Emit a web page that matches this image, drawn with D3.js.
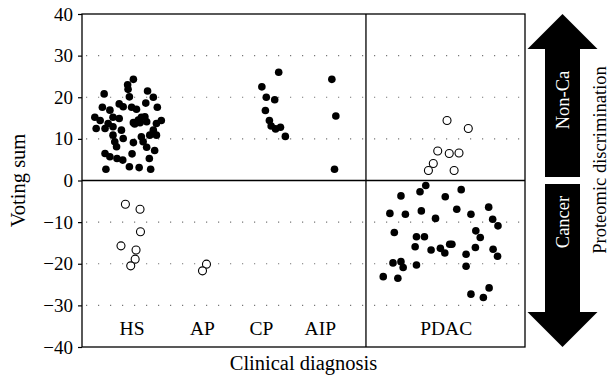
<!DOCTYPE html>
<html>
<head>
<meta charset="utf-8">
<script src="https://cdn.jsdelivr.net/npm/d3@7"></script>
<style>
  body { margin: 0; background: #fff; }
  text { font-family: "Liberation Serif", "Times New Roman", serif; }
</style>
</head>
<body>
<svg id="chart" width="612" height="379"></svg>
<script>
// categories and their position on the x axis (0-10 units)
const categories = ['HS', 'AP', 'CP', 'AIP', 'PDAC'];
const categoryPos = [1.13, 2.72, 4.05, 5.38, 8.22];
const dividerPos = 6.41;

const yTicks = [-40, -30, -20, -10, 0, 10, 20, 30, 40];
const gridValues = [-30, -20, -10, 10, 20, 30];

// [x, voting sum] ; filled = correctly discriminated, open = misclassified
const hsFilled = [
  [1.16, 24.3], [1.03, 23.0], [1.04, 21.9], [1.07, 20.1], [0.50, 20.8], [1.48, 21.5],
  [1.61, 20.0], [1.44, 18.6], [1.70, 17.6], [0.46, 17.6], [0.63, 16.9], [0.84, 18.4],
  [0.93, 17.7], [1.12, 17.6], [1.23, 17.1], [0.29, 15.2], [0.41, 14.4], [0.32, 12.5],
  [0.52, 12.5], [0.59, 13.7], [0.70, 15.2], [0.84, 14.9], [0.70, 12.9], [0.89, 12.1],
  [1.16, 13.9], [1.27, 14.5], [1.34, 15.2], [1.42, 15.3], [1.46, 14.1], [1.68, 13.7],
  [1.79, 14.4], [1.61, 12.1], [0.70, 10.9], [0.93, 10.1], [0.74, 9.3], [0.78, 8.1],
  [1.16, 9.1], [1.34, 10.5], [1.38, 9.3], [1.53, 10.9], [1.68, 10.9], [1.46, 8.0],
  [1.64, 7.2], [0.52, 6.5], [0.63, 5.7], [0.79, 5.3], [0.92, 4.9], [1.13, 6.4],
  [1.52, 5.3], [0.54, 2.7], [1.07, 3.3], [1.29, 3.1], [1.55, 2.7], [1.31, 13.9],
  [1.19, 13.6]
];
const hsOpen = [
  [0.98, -5.7], [1.31, -6.9], [1.32, -12.3], [0.88, -15.7], [1.22, -16.7], [1.20, -18.9],
  [1.10, -20.5]
];
const apOpen = [[2.81, -20.1], [2.72, -21.7]];
const cpFilled = [
  [4.44, 26.0], [4.06, 22.5], [4.16, 20.0], [4.35, 19.4], [4.14, 16.8], [4.23, 14.4],
  [4.27, 13.1], [4.37, 12.4], [4.48, 12.8], [4.59, 10.6]
];
const aipFilled = [[5.64, 24.3], [5.73, 15.5], [5.70, 2.7]];
const pdacOpen = [
  [8.24, 14.4], [8.72, 12.5], [8.03, 7.1], [8.29, 6.5], [8.51, 6.6], [7.93, 4.1],
  [7.82, 2.4], [8.40, 2.4]
];
const pdacFilled = [
  [7.76, -1.2], [7.63, -2.7], [8.56, -2.2], [7.20, -3.7], [8.20, -3.9], [6.95, -7.9],
  [7.30, -8.1], [7.66, -7.3], [7.98, -9.1], [8.46, -6.9], [8.78, -8.1], [9.18, -6.4],
  [9.27, -9.3], [9.39, -10.9], [7.05, -12.5], [7.55, -13.5], [7.73, -13.5], [8.89, -12.1],
  [8.99, -13.7], [7.52, -15.9], [7.88, -16.7], [8.09, -16.3], [8.19, -17.4], [8.30, -15.3],
  [8.35, -15.3], [8.88, -16.1], [8.67, -17.7], [9.28, -16.5], [9.38, -18.2], [7.02, -19.8],
  [7.20, -19.5], [7.25, -20.9], [7.55, -20.3], [8.67, -20.6], [6.80, -23.1], [7.13, -23.5],
  [9.19, -25.8], [8.78, -27.3], [9.06, -28.1]
];

const margin = { left: 82, right: 87, top: 14, bottom: 32 };
const width = 612, height = 379;

const svg = d3.select('#chart');

const x = d3.scaleLinear().domain([0, 10]).range([margin.left, width - margin.right]);
const y = d3.scaleLinear().domain([-40, 40]).range([height - margin.bottom, margin.top]);

// dotted grid lines
svg.append('g')
  .selectAll('line')
  .data(gridValues)
  .join('line')
  .attr('x1', x(0) + 4)
  .attr('x2', x(10))
  .attr('y1', d => y(d))
  .attr('y2', d => y(d))
  .attr('stroke', '#777')
  .attr('stroke-width', 1.2)
  .attr('stroke-dasharray', '1.2 10.8');

// y axis
const yAxis = d3.axisLeft(y).tickValues(yTicks).tickSize(4).tickPadding(5)
  .tickFormat(d => d < 0 ? '\u2212' + Math.abs(d) : d);
svg.append('g')
  .attr('transform', `translate(${margin.left},0)`)
  .call(yAxis)
  .call(g => g.select('.domain').remove())
  .call(g => g.selectAll('line').attr('stroke', '#000').attr('stroke-width', 1.2))
  .call(g => g.selectAll('text').attr('font-size', 19).attr('fill', '#000')
    .attr('font-family', '"Liberation Serif", serif'));

// frame, zero line, divider
svg.append('rect')
  .attr('x', x(0)).attr('y', y(40))
  .attr('width', x(10) - x(0)).attr('height', y(-40) - y(40))
  .attr('fill', 'none').attr('stroke', '#000').attr('stroke-width', 1.3);
svg.append('line')
  .attr('x1', x(0)).attr('x2', x(10)).attr('y1', y(0)).attr('y2', y(0))
  .attr('stroke', '#000').attr('stroke-width', 1.3);
svg.append('line')
  .attr('x1', x(dividerPos)).attr('x2', x(dividerPos)).attr('y1', y(40)).attr('y2', y(-40))
  .attr('stroke', '#000').attr('stroke-width', 1.3);

// category labels
svg.append('g')
  .selectAll('text')
  .data(categories)
  .join('text')
  .attr('x', (d, i) => x(categoryPos[i]))
  .attr('y', y(-37.2))
  .attr('text-anchor', 'middle')
  .attr('font-size', 19.5)
  .text(d => d);

// points
const filled = [].concat(hsFilled, cpFilled, aipFilled, pdacFilled);
const open = [].concat(hsOpen, apOpen, pdacOpen);

svg.append('g')
  .selectAll('circle')
  .data(filled)
  .join('circle')
  .attr('cx', d => x(d[0]))
  .attr('cy', d => y(d[1]))
  .attr('r', 3.8)
  .attr('fill', '#000');

svg.append('g')
  .selectAll('circle')
  .data(open)
  .join('circle')
  .attr('cx', d => x(d[0]))
  .attr('cy', d => y(d[1]))
  .attr('r', 4)
  .attr('fill', '#fff')
  .attr('stroke', '#000')
  .attr('stroke-width', 1.1);

// axis titles
svg.append('text')
  .attr('transform', `translate(25,${y(0)}) rotate(-90)`)
  .attr('text-anchor', 'middle')
  .attr('font-size', 20.5)
  .text('Voting sum');

svg.append('text')
  .attr('x', (x(0) + x(10)) / 2)
  .attr('y', 370)
  .attr('text-anchor', 'middle')
  .attr('font-size', 20.5)
  .text('Clinical diagnosis');

// double arrow on the right
const arrowX = 562.5, headW = 35, shaftW = 17.5, headH = 35, gap = 3.5;
const arrowTop = y(40), arrowBottom = y(-40), arrowMid = y(0);
const upArrow = [
  [arrowX, arrowTop], [arrowX + headW, arrowTop + headH], [arrowX + shaftW, arrowTop + headH],
  [arrowX + shaftW, arrowMid - gap], [arrowX - shaftW, arrowMid - gap],
  [arrowX - shaftW, arrowTop + headH], [arrowX - headW, arrowTop + headH]
];
const downArrow = [
  [arrowX, arrowBottom], [arrowX + headW, arrowBottom - headH], [arrowX + shaftW, arrowBottom - headH],
  [arrowX + shaftW, arrowMid + gap], [arrowX - shaftW, arrowMid + gap],
  [arrowX - shaftW, arrowBottom - headH], [arrowX - headW, arrowBottom - headH]
];
svg.append('g')
  .selectAll('path')
  .data([upArrow, downArrow])
  .join('path')
  .attr('d', d => 'M' + d.join('L') + 'Z')
  .attr('fill', '#000');

svg.append('text')
  .attr('transform', `translate(569,100) rotate(-90)`)
  .attr('text-anchor', 'middle')
  .attr('font-size', 18.5)
  .attr('fill', '#fff')
  .text('Non-Ca');

svg.append('text')
  .attr('transform', `translate(569,222) rotate(-90)`)
  .attr('text-anchor', 'middle')
  .attr('font-size', 18.5)
  .attr('fill', '#fff')
  .text('Cancer');

svg.append('text')
  .attr('transform', `translate(606,160) rotate(-90)`)
  .attr('text-anchor', 'middle')
  .attr('font-size', 18.5)
  .text('Proteomic discrimination');
</script>
</body>
</html>
